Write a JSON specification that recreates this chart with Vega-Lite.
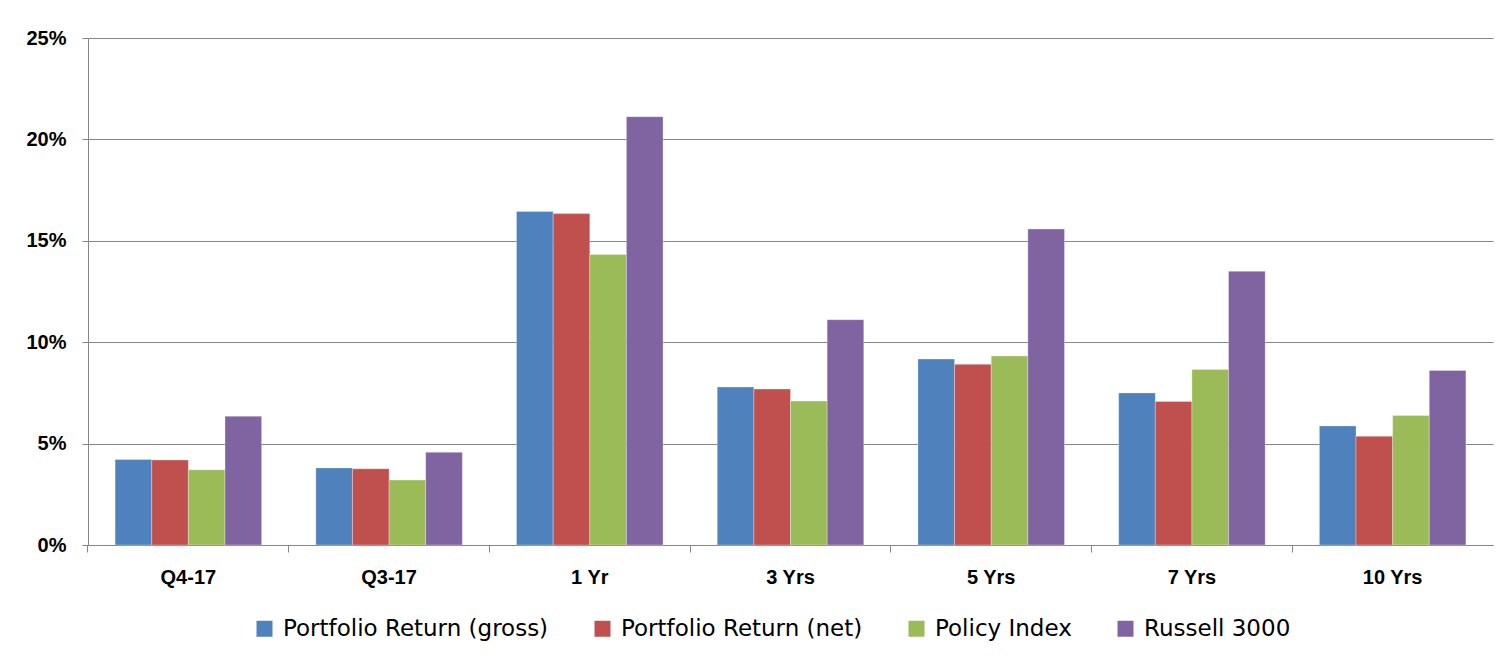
{
  "$schema": "https://vega.github.io/schema/vega-lite/v6.json",
  "width": 1405,
  "height": 507,
  "autosize": {"type": "none"},
  "padding": {"left": 88, "top": 38, "right": 19, "bottom": 115},
  "background": "white",
  "config": {
    "view": {"stroke": null},
    "font": "Liberation Sans"
  },
  "data": {
    "values": [
      {"period": "Q4-17", "series": "Portfolio Return (gross)", "value": 0.0422},
      {"period": "Q4-17", "series": "Portfolio Return (net)", "value": 0.0419},
      {"period": "Q4-17", "series": "Policy Index", "value": 0.0371},
      {"period": "Q4-17", "series": "Russell 3000", "value": 0.0635},
      {"period": "Q3-17", "series": "Portfolio Return (gross)", "value": 0.0380},
      {"period": "Q3-17", "series": "Portfolio Return (net)", "value": 0.0376},
      {"period": "Q3-17", "series": "Policy Index", "value": 0.0320},
      {"period": "Q3-17", "series": "Russell 3000", "value": 0.0457},
      {"period": "1 Yr", "series": "Portfolio Return (gross)", "value": 0.1645},
      {"period": "1 Yr", "series": "Portfolio Return (net)", "value": 0.1634},
      {"period": "1 Yr", "series": "Policy Index", "value": 0.1433},
      {"period": "1 Yr", "series": "Russell 3000", "value": 0.2112},
      {"period": "3 Yrs", "series": "Portfolio Return (gross)", "value": 0.0779},
      {"period": "3 Yrs", "series": "Portfolio Return (net)", "value": 0.0769},
      {"period": "3 Yrs", "series": "Policy Index", "value": 0.0710},
      {"period": "3 Yrs", "series": "Russell 3000", "value": 0.1111},
      {"period": "5 Yrs", "series": "Portfolio Return (gross)", "value": 0.0917},
      {"period": "5 Yrs", "series": "Portfolio Return (net)", "value": 0.0891},
      {"period": "5 Yrs", "series": "Policy Index", "value": 0.0932},
      {"period": "5 Yrs", "series": "Russell 3000", "value": 0.1558},
      {"period": "7 Yrs", "series": "Portfolio Return (gross)", "value": 0.0750},
      {"period": "7 Yrs", "series": "Portfolio Return (net)", "value": 0.0708},
      {"period": "7 Yrs", "series": "Policy Index", "value": 0.0866},
      {"period": "7 Yrs", "series": "Russell 3000", "value": 0.1350},
      {"period": "10 Yrs", "series": "Portfolio Return (gross)", "value": 0.0587},
      {"period": "10 Yrs", "series": "Portfolio Return (net)", "value": 0.0536},
      {"period": "10 Yrs", "series": "Policy Index", "value": 0.0639},
      {"period": "10 Yrs", "series": "Russell 3000", "value": 0.0861}
    ]
  },
  "mark": {"type": "bar", "stroke": "#ffffff", "strokeOpacity": 0.5, "strokeWidth": 0.6},
  "encoding": {
    "x": {
      "field": "period",
      "type": "nominal",
      "sort": ["Q4-17", "Q3-17", "1 Yr", "3 Yrs", "5 Yrs", "7 Yrs", "10 Yrs"],
      "scale": {"paddingInner": 0.27, "paddingOuter": 0.135},
      "axis": {
        "title": null,
        "labelAngle": 0,
        "labelFont": "Liberation Sans",
        "labelFontWeight": "bold",
        "labelFontSize": 20,
        "labelColor": "#000000",
        "labelPadding": 15,
        "domainColor": "#868686",
        "domainWidth": 1,
        "tickColor": "#868686",
        "tickSize": 7,
        "bandPosition": -0.185
      }
    },
    "xOffset": {
      "field": "series",
      "sort": ["Portfolio Return (gross)", "Portfolio Return (net)", "Policy Index", "Russell 3000"],
      "scale": {"paddingInner": 0, "paddingOuter": 0}
    },
    "y": {
      "field": "value",
      "type": "quantitative",
      "scale": {"domain": [0, 0.25], "nice": false},
      "axis": {
        "title": null,
        "values": [0, 0.05, 0.1, 0.15, 0.2, 0.25],
        "format": ".0%",
        "labelFont": "Liberation Sans",
        "labelFontWeight": "bold",
        "labelFontSize": 20,
        "labelColor": "#000000",
        "labelPadding": 16,
        "domainColor": "#868686",
        "tickColor": "#868686",
        "tickSize": 6,
        "gridColor": "#868686",
        "gridWidth": 1,
        "gridOpacity": 1
      }
    },
    "color": {
      "field": "series",
      "type": "nominal",
      "sort": ["Portfolio Return (gross)", "Portfolio Return (net)", "Policy Index", "Russell 3000"],
      "scale": {
        "domain": ["Portfolio Return (gross)", "Portfolio Return (net)", "Policy Index", "Russell 3000"],
        "range": ["#4F81BD", "#C0504D", "#9BBB59", "#8064A2"]
      },
      "legend": {
        "title": null,
        "orient": "none",
        "direction": "horizontal",
        "legendX": 165,
        "legendY": 579,
        "symbolType": "square",
        "symbolSize": 256,
        "symbolStrokeWidth": 0,
        "labelFont": "DejaVu Sans",
        "labelFontSize": 23,
        "labelColor": "#000000",
        "labelOffset": 7,
        "columnPadding": 42,
        "labelLimit": 400
      }
    }
  }
}
